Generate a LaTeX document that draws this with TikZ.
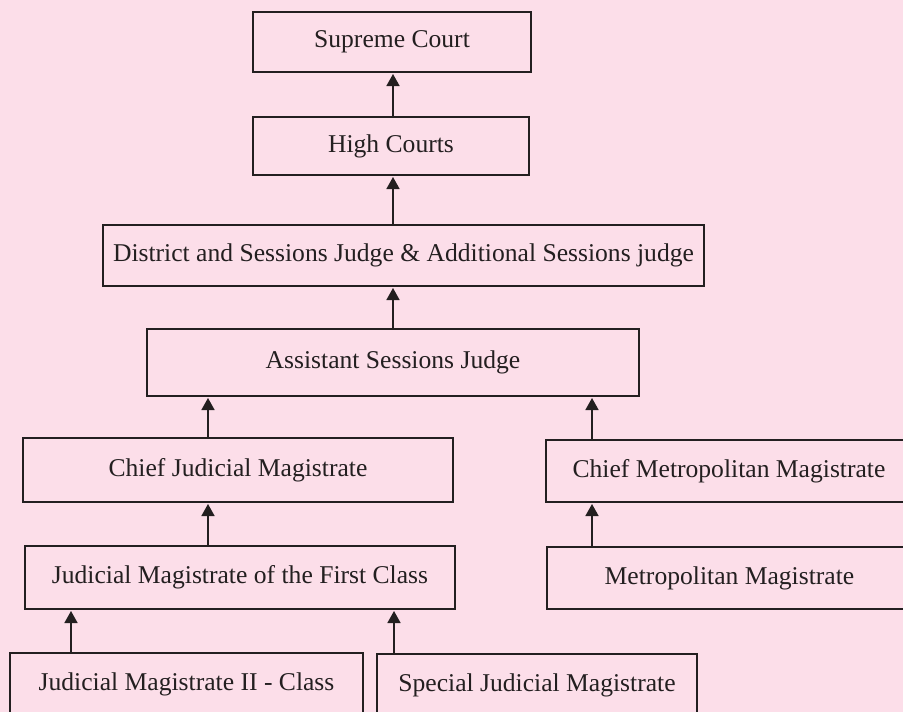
\documentclass[tikz,border=0pt]{standalone}
\usepackage{fontspec}
\setmainfont{Liberation Serif}
\usetikzlibrary{arrows.meta}
\definecolor{bgpink}{RGB}{252,222,233}
\definecolor{ink}{RGB}{35,31,32}
\tikzset{
  courtbox/.style={draw=ink, line width=1.8pt, rectangle, inner sep=0pt, outer sep=0pt,
    text=ink, font=\fontsize{25.6}{30}\selectfont},
  uparrow/.style={draw=ink, line width=1.6pt, -{Triangle[length=12pt,width=13pt]}, shorten >=2pt}
}
\begin{document}
\begin{tikzpicture}[x=1pt,y=-1pt]
\useasboundingbox (0,0) rectangle (903,712);
\fill[bgpink] (0,0) rectangle (903,712);
\clip (0,0) rectangle (903,712);

\node[courtbox, minimum width=278pt, minimum height=60pt] (sc) at (392,42) {Supreme Court};
\node[courtbox, minimum width=276pt, minimum height=58pt] (hc) at (391,146) {High Courts};
\node[courtbox, minimum width=601pt, minimum height=61pt] (dsj) at (403.5,255.5) {District and Sessions Judge \& Additional Sessions judge};
\node[courtbox, minimum width=492pt, minimum height=67pt] (asj) at (393,362.5) {Assistant Sessions Judge};
\node[courtbox, minimum width=430pt, minimum height=64pt] (cjm) at (238,470) {Chief Judicial Magistrate};
\node[courtbox, minimum width=366pt, minimum height=62pt] (cmm) at (729,471) {Chief Metropolitan Magistrate};
\node[courtbox, minimum width=430pt, minimum height=63pt] (jmfc) at (240,577.5) {Judicial Magistrate of the First Class};
\node[courtbox, minimum width=365pt, minimum height=62pt] (mm) at (729.5,578) {Metropolitan Magistrate};
\node[courtbox, minimum width=353pt, minimum height=63pt] (jm2) at (186.5,684.5) {Judicial Magistrate II - Class};
\node[courtbox, minimum width=320pt, minimum height=62pt] (sjm) at (537,685) {Special Judicial Magistrate};

\coordinate (xa) at (393,0);
\coordinate (xb) at (208,0);
\coordinate (xc) at (592,0);
\coordinate (xd) at (71,0);
\coordinate (xe) at (394,0);

\draw[uparrow] (hc.north -| xa) -- (sc.south -| xa);
\draw[uparrow] (dsj.north -| xa) -- (hc.south -| xa);
\draw[uparrow] (asj.north -| xa) -- (dsj.south -| xa);
\draw[uparrow] (cjm.north -| xb) -- (asj.south -| xb);
\draw[uparrow] (cmm.north -| xc) -- (asj.south -| xc);
\draw[uparrow] (jmfc.north -| xb) -- (cjm.south -| xb);
\draw[uparrow] (mm.north -| xc) -- (cmm.south -| xc);
\draw[uparrow] (jm2.north -| xd) -- (jmfc.south -| xd);
\draw[uparrow] (sjm.north -| xe) -- (jmfc.south -| xe);
\end{tikzpicture}
\end{document}
